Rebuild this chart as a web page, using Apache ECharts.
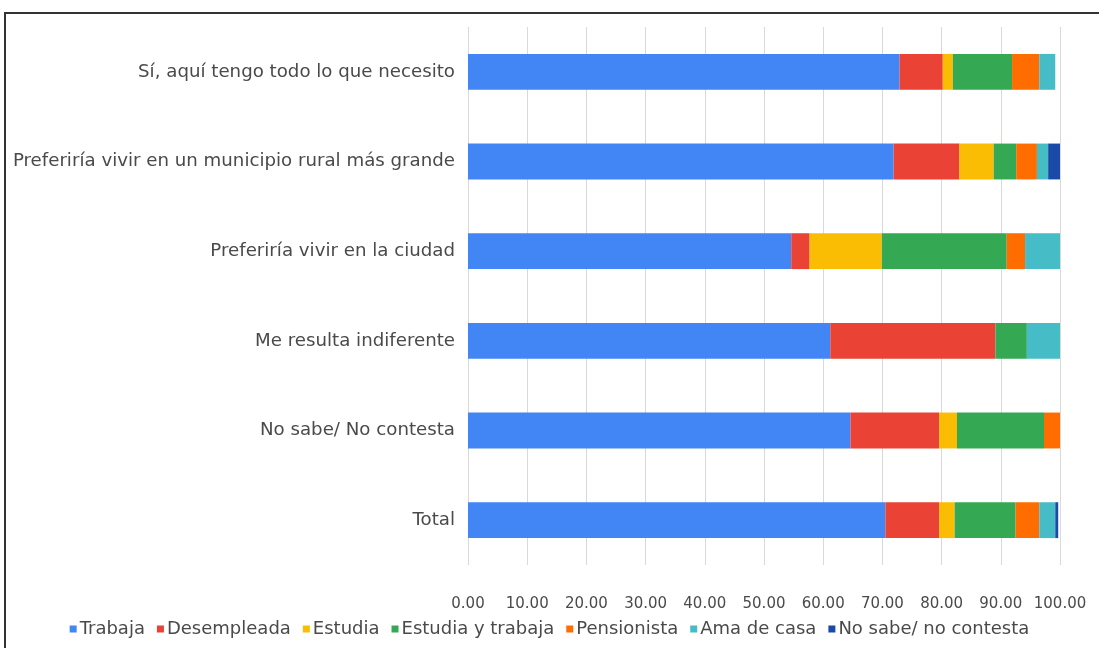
<!DOCTYPE html>
<html>
<head>
<meta charset="utf-8">
<script src="https://cdn.jsdelivr.net/npm/echarts@6/dist/echarts.min.js"></script>
<style>
  html, body { margin: 0; padding: 0; background: #fff; }
  #wrap { position: relative; width: 1099px; height: 648px; overflow: hidden; }
  #chart { position: absolute; left: 0; top: 0; width: 1099px; height: 648px; }
  #frame { position: absolute; left: 4px; top: 12px; width: 1200px; height: 700px;
           border-top: 2px solid #333; border-left: 2px solid #333; pointer-events: none; }
</style>
</head>
<body>
<div id="wrap">
  <div id="chart"></div>
  <div id="frame"></div>
</div>
<script>
// Respuesta a la pregunta y situación laboral (%)
const categories = [
  'Sí, aquí tengo todo lo que necesito',
  'Preferiría vivir en un municipio rural más grande',
  'Preferiría vivir en la ciudad',
  'Me resulta indiferente',
  'No sabe/ No contesta',
  'Total'
];
const trabaja        = [72.9, 71.9, 54.6, 61.2, 64.6, 70.5];
const desempleada    = [7.3, 11.1, 3.1, 27.9, 15.0, 9.1];
const estudia        = [1.7, 5.8, 12.2, 0, 3.0, 2.6];
const estudiaTrabaja = [10.0, 3.8, 21.1, 5.3, 14.7, 10.3];
const pensionista    = [4.6, 3.5, 3.1, 0, 2.7, 4.0];
const amaDeCasa      = [2.7, 1.9, 5.9, 5.6, 0, 2.7];
const noSabe         = [0, 2.0, 0, 0, 0, 0.5];

const seriesNames = ['Trabaja', 'Desempleada', 'Estudia', 'Estudia y trabaja',
                     'Pensionista', 'Ama de casa', 'No sabe/ no contesta'];
const seriesData = [trabaja, desempleada, estudia, estudiaTrabaja,
                    pensionista, amaDeCasa, noSabe];
const colors = ['#4285F4', '#EA4335', '#FBBC04', '#34A853', '#FF6D01', '#46BDC6', '#1A4AA8'];

const FONT = 'DejaVu Sans';

const chart = echarts.init(document.getElementById('chart'), null, { renderer: 'canvas' });
chart.setOption({
  animation: false,
  color: colors,
  grid: { left: 468, right: 39, top: 27, bottom: 83 },
  legend: {
    bottom: 5,
    left: 'center',
    icon: 'rect',
    itemWidth: 7,
    itemHeight: 7,
    itemGap: 12,
    textStyle: { fontFamily: FONT, fontSize: 18, color: '#4a4a4a', padding: [0, 0, 0, -2] },
    data: seriesNames
  },
  xAxis: {
    type: 'value',
    min: 0,
    max: 100,
    interval: 10,
    axisLine: { show: false },
    axisTick: { show: false },
    splitLine: { lineStyle: { color: '#d9d9d9', width: 1 } },
    axisLabel: {
      margin: 32,
      fontFamily: FONT,
      fontSize: 15,
      color: '#4a4a4a',
      formatter: v => v.toFixed(2)
    }
  },
  yAxis: {
    type: 'category',
    inverse: true,
    data: categories,
    axisLine: { show: false },
    axisTick: { show: false },
    axisLabel: { margin: 13, fontFamily: FONT, fontSize: 18.2, color: '#4a4a4a' }
  },
  series: seriesNames.map((name, i) => ({
    name: name,
    type: 'bar',
    stack: 'total',
    barWidth: '40%',
    data: seriesData[i]
  }))
});
</script>
</body>
</html>
